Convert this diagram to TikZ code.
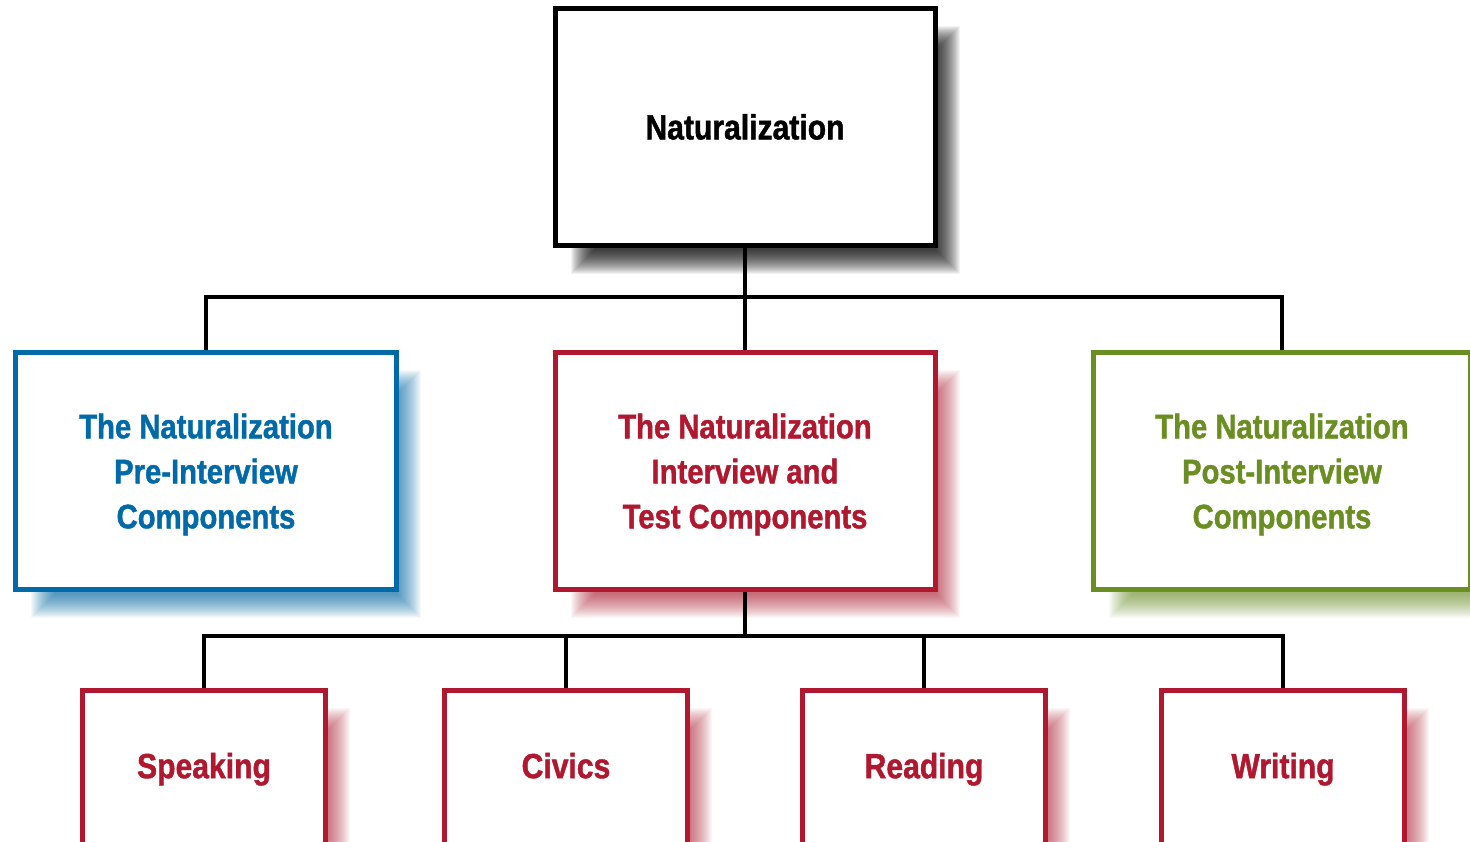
\documentclass[tikz,border=0pt]{standalone}
\usepackage{fontspec}
\newfontfamily\condfont{Liberation Sans}[FakeStretch=0.86,FakeBold=1.2]
\usetikzlibrary{backgrounds}
\definecolor{cblue}{HTML}{0069A7}
\definecolor{cred}{HTML}{B0182F}
\definecolor{cgreen}{HTML}{6A8E22}
\definecolor{cshade}{HTML}{000000}
\newcommand\softshadow[3]{%
  \foreach \i in {0,...,24}{%
    \pgfmathsetmacro\dd{-12+1.0*\i}%
    \pgfmathsetmacro\xa{30+\dd}%
    \pgfmathsetmacro\ya{-32-\dd}%
    \pgfmathsetmacro\xb{10-\dd}%
    \pgfmathsetmacro\yb{-14+\dd}%
    \fill[#2, opacity=#3]
      ([xshift=\xa bp, yshift=\ya bp]#1.north west)
      rectangle ([xshift=\xb bp, yshift=\yb bp]#1.south east);
  }}
\begin{document}
\begin{tikzpicture}[x=1bp,y=-1bp,
  box/.style={draw=#1, text=#1, line width=5bp, fill=white, inner sep=0pt,
    align=center, text depth=0pt},
  bigbox/.style={box=#1, minimum height=237bp,
    font=\condfont\bfseries\fontsize{34bp}{45bp}\selectfont},
  smallbox/.style={box=#1, minimum width=243bp, minimum height=155bp,
    text depth=5bp, font=\condfont\bfseries\fontsize{35bp}{42bp}\selectfont},
  conn/.style={line width=4.5bp, line join=miter}]
\useasboundingbox (0,0) rectangle (1470,841);

\node[bigbox=black, minimum width=380bp, minimum height=236.5bp,
  font=\condfont\bfseries\fontsize{35bp}{42bp}\selectfont]
  (top) at (745,126.75) {Naturalization};

\node[bigbox=cblue, minimum width=380.5bp] (pre) at (206,471)
  {The Naturalization\\Pre-Interview\\Components};
\node[bigbox=cred, minimum width=380bp] (mid) at (745,471)
  {The Naturalization\\Interview and\\Test Components};
\node[bigbox=cgreen, minimum width=377bp] (post) at (1282,471)
  {The Naturalization\\Post-Interview\\Components};

\node[smallbox=cred] (speak) at (204,768) {Speaking};
\node[smallbox=cred] (civ) at (566,768) {Civics};
\node[smallbox=cred] (read) at (924,768) {Reading};
\node[smallbox=cred] (writ) at (1283,768) {Writing};

\coordinate (j1) at (745,297);
\coordinate (j2) at (745,636);
\draw[conn] (top.south) -- (j1);
\draw[conn] (pre.north) |- (j1) -| (post.north);
\draw[conn] (j1) -- (mid.north);
\draw[conn] (mid.south) -- (j2);
\draw[conn] (speak.north) |- (j2) -| (writ.north);
\draw[conn] (civ.north) -- (civ.north |- j2);
\draw[conn] (read.north) -- (read.north |- j2);

\begin{pgfonlayer}{background}
  \fill[white] (0,0) rectangle (1470,841);
  \softshadow{top}{cshade}{0.05}
  \softshadow{pre}{cblue}{0.04}
  \softshadow{mid}{cred}{0.035}
  \softshadow{post}{cgreen}{0.035}
  \softshadow{speak}{cred}{0.035}
  \softshadow{civ}{cred}{0.035}
  \softshadow{read}{cred}{0.035}
  \softshadow{writ}{cred}{0.035}
\end{pgfonlayer}
\end{tikzpicture}
\end{document}
